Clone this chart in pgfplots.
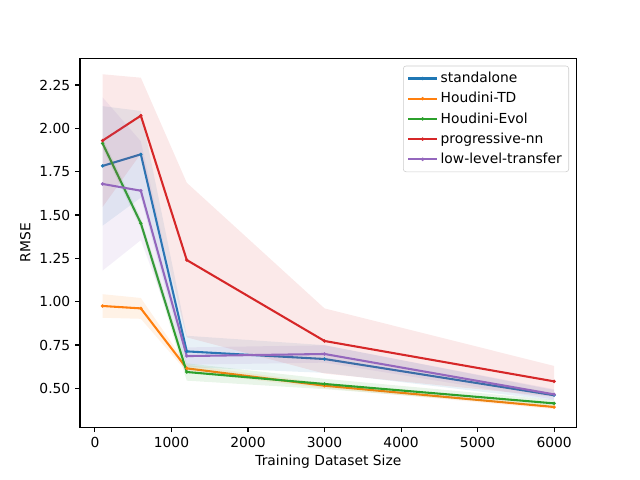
\documentclass[border=0pt]{standalone}
\usepackage{pgfplots}
\pgfplotsset{compat=1.18}
\usepackage{fontspec}
\setmainfont{DejaVu Sans}
\definecolor{c0}{HTML}{1F77B4}
\definecolor{c1}{HTML}{FF7F0E}
\definecolor{c2}{HTML}{2CA02C}
\definecolor{c3}{HTML}{D62728}
\definecolor{c4}{HTML}{9467BD}
\begin{document}
\begin{tikzpicture}
\path[use as bounding box] (0,0) rectangle (6.4in,4.8in);
\begin{axis}[
  at={(0.80in,0.527in)}, anchor=south west,
  width=4.967in, height=3.69in, scale only axis,
  xmin=-195, xmax=6295, ymin=0.275, ymax=2.404,
  xtick={0,1000,...,6000},
  ytick={0.5,0.75,1,1.25,1.5,1.75,2,2.25},
  /pgf/number format/assume math mode=true,
  xticklabel style={/pgf/number format/1000 sep={}},
  yticklabel style={/pgf/number format/fixed,/pgf/number format/fixed zerofill,/pgf/number format/precision=2},
  tick align=outside, tick pos=left,
  major tick length=3.5pt,
  every tick/.style={black, line width=0.8pt},
  axis line style={line width=0.8pt},
  font=\fontsize{10pt}{12pt}\selectfont,
  xlabel={Training Dataset Size}, ylabel={RMSE},
  xlabel style={yshift=1.5pt}, ylabel style={yshift=-0.5pt},
  legend style={at={(1,1)}, anchor=north east, xshift=-0.077in, yshift=-0.074in,
    draw=black!20, rounded corners=2pt, fill=white, fill opacity=0.8, text opacity=1,
    font=\fontsize{10pt}{12pt}\selectfont, row sep=1.5pt, inner xsep=3pt, inner ysep=2.5pt},
  legend cell align=left,
  legend image code/.code={\draw[#1, mark repeat=2, mark phase=2] plot coordinates {(0cm,0cm) (0.36cm,0cm) (0.72cm,0cm)};},
]
% standalone
\addplot[fill=c0, fill opacity=0.1, draw=none, forget plot] coordinates {
(100,2.128) (600,2.10) (1200,0.803) (3000,0.749) (6000,0.49)
(6000,0.43) (3000,0.589) (1200,0.623) (600,1.60) (100,1.438)} -- cycle;
\addplot[c0, line width=1.5pt, mark=*, mark size=0.3pt] coordinates {
(100,1.783) (600,1.85) (1200,0.713) (3000,0.669) (6000,0.46)};
\addlegendentry{standalone}
% Houdini-TD
\addplot[fill=c1, fill opacity=0.1, draw=none, forget plot] coordinates {
(100,1.043) (600,1.021) (1200,0.635) (3000,0.530) (6000,0.404)
(6000,0.380) (3000,0.500) (1200,0.595) (600,0.901) (100,0.907)} -- cycle;
\addplot[c1, line width=1.5pt, mark=*, mark size=0.3pt] coordinates {
(100,0.975) (600,0.961) (1200,0.615) (3000,0.515) (6000,0.392)};
\addlegendentry{Houdini-TD}
% Houdini-Evol
\addplot[fill=c2, fill opacity=0.1, draw=none, forget plot] coordinates {
(100,1.943) (600,1.482) (1200,0.644) (3000,0.555) (6000,0.433)
(6000,0.393) (3000,0.495) (1200,0.544) (600,1.422) (100,1.883)} -- cycle;
\addplot[c2, line width=1.5pt, mark=*, mark size=0.3pt] coordinates {
(100,1.913) (600,1.452) (1200,0.594) (3000,0.525) (6000,0.413)};
\addlegendentry{Houdini-Evol}
% progressive-nn
\addplot[fill=c3, fill opacity=0.1, draw=none, forget plot] coordinates {
(100,2.312) (600,2.292) (1200,1.686) (3000,0.961) (6000,0.629)
(6000,0.451) (3000,0.585) (1200,0.794) (600,1.854) (100,1.546)} -- cycle;
\addplot[c3, line width=1.5pt, mark=*, mark size=0.3pt] coordinates {
(100,1.929) (600,2.073) (1200,1.24) (3000,0.773) (6000,0.54)};
\addlegendentry{progressive-nn}
% low-level-transfer
\addplot[fill=c4, fill opacity=0.1, draw=none, forget plot] coordinates {
(100,2.179) (600,1.925) (1200,0.736) (3000,0.748) (6000,0.495)
(6000,0.435) (3000,0.648) (1200,0.636) (600,1.355) (100,1.179)} -- cycle;
\addplot[c4, line width=1.5pt, mark=*, mark size=0.3pt] coordinates {
(100,1.679) (600,1.64) (1200,0.686) (3000,0.698) (6000,0.465)};
\addlegendentry{low-level-transfer}
\end{axis}
\end{tikzpicture}
\end{document}
